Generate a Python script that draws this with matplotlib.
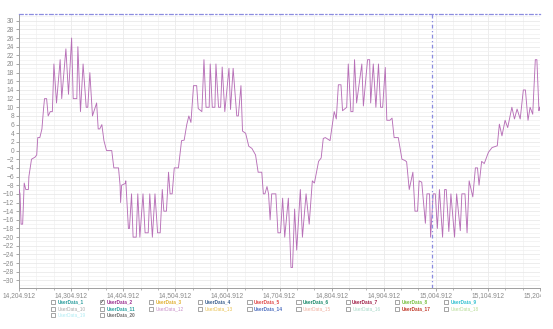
import matplotlib
matplotlib.use("Agg")
import matplotlib.pyplot as plt
from matplotlib.patches import Rectangle
from matplotlib.ticker import FixedLocator, FuncFormatter
from matplotlib.transforms import Bbox, TransformedBbox
import numpy as np

# ---------------- data ----------------
x_start = 14204.912
x_offsets = [0, 2, 4, 7, 10, 13, 18, 19, 24, 31, 34, 36, 40, 44, 47, 49, 53, 56, 60, 64,
             67, 72, 79, 82, 90, 95, 101, 104, 111, 113, 118, 123, 129, 132, 136, 141, 149, 152, 155, 159,
             163, 168, 178, 182, 191, 194, 195, 197, 204, 205, 210, 212, 216, 219, 225, 228, 232, 238, 242, 248,
             251, 256, 261, 266, 271, 275, 278, 283, 287, 290, 294, 298, 306, 312, 317, 322, 326, 330, 335, 341,
             344, 351, 355, 359, 365, 367, 371, 376, 378, 383, 387, 390, 395, 403, 406, 411, 418, 421, 426, 429,
             435, 441, 447, 454, 459, 466, 469, 472, 476, 479, 482, 485, 493, 497, 502, 506, 510, 517, 522, 525,
             529, 533, 540, 544, 551, 557, 563, 567, 575, 580, 584, 588, 597, 605, 609, 613, 618, 621, 629, 632,
             637, 641, 644, 648, 658, 661, 669, 673, 675, 680, 685, 690, 694, 698, 703, 706, 712, 716, 720, 728,
             735, 741, 744, 749, 756, 760, 765, 768, 773, 780, 783, 788, 790, 795, 799, 803, 807, 813, 817, 820,
             825, 829, 836, 840, 847, 850, 856, 860, 864, 871, 876, 880, 883, 888, 893, 901, 908, 918, 922, 927,
             933, 938, 946, 951, 956, 962, 968, 972, 977, 981, 986, 991, 994, 998, 999]
user_data_2 = [-9, -10, -17, -17, -7.5, -9, -9, -6, -2, -1.5, -1, 3, 3, 5, 9.5, 12, 12, 8, 9, 9,
               20, 11, 21, 12, 23.5, 13, 26, 12, 12, 24, 9, 20, 10, 10, 18, 8, 11, 5, 5, 6,
               2.3, 0, 0, -4, -4, -8, -12, -8, -7.6, -7, -18, -18, -10, -20, -20, -10, -20, -10, -19, -19,
               -10, -20, -10, -19, -19, -9, -14, -14, -5, -10, -10, -4, -4, 2.3, 2.4, 6, 8, 6.5, 15, 15,
               9.7, 9, 21, 10, 10, 20, 10, 10, 20, 10, 10, 19.3, 9, 19, 9.5, 19, 8, 8, 15, 4.5,
               4, 1, 0.5, -1, -5, -5, -10, -10, -8.3, -10, -16, -10, -10, -19, -19, -11, -20, -11, -27, -27,
               -13.5, -23, -9, -20, -10, -17, -7, -7.5, -2.5, -1.7, 2.8, 3, 2.3, 9, 7.3, 15.2, 15.2, 9.2, 10, 20,
               9, 9, 21, 11, 20, 10.3, 21, 21, 11, 20, 10, 20, 10, 10, 19.2, 7, 7, 7.5, 3, 3,
               -2, -2.3, -2.6, -9, -5, -14, -14, -7, -7.3, -16.8, -10, -10, -20, -10, -10, -18, -9, -20, -9, -9,
               -18.7, -10, -20, -10, -18.5, -10, -10, -19, -7, -10.7, -4, -4, -8, -2.5, -3, -0.4, 0.7, 1.1, 6.1, 3.4,
               7, 5.3, 10, 7.3, 9.6, 7.3, 14, 14, 7, 10, 8.4, 21, 21, 9.2, 10]
cursor_x = 14997.0

series_names = ["UserData_%d" % i for i in range(1, 21)]
series_colors = ["#2a9d9d", "#9b2d8f", "#e0b030", "#3a5f8f", "#e04848", "#1a8a6a", "#a02048",
                 "#78c040", "#30c0d0", "#a8a8a8", "#2aa0a0", "#c890c8", "#e8c050", "#5070c0",
                 "#f0b0a0", "#a8d8c8", "#c03828", "#b8dc98", "#b0ecf4", "#707070"]
series_checked = [False, True] + [False] * 18
series_bold = [True] * 9 + [False, True, False, False, True, False, False, True, False, False, True]

x_major = [x_start + 100 * k for k in range(11)]

# ---------------- figure ----------------
W, H = 553, 329
fig = plt.figure(figsize=(W / 100, H / 100), dpi=100)
fig.patch.set_facecolor("white")
ax = fig.add_axes([19 / W, 1 - 288 / H, 521 / W, 274 / H])
ax.set_facecolor("white")

xs = [x_start + o for o in x_offsets]
ax.plot(xs, user_data_2, color="#b060b0", lw=0.65, alpha=0.9, zorder=3)

ax.set_xlim(x_start, x_start + 1000)
ax.set_ylim(-31.75, 31.55)

# ticks
ax.xaxis.set_major_locator(FixedLocator(x_major))
minors = [x_start + 100 * k / 3 for k in range(31) if k % 3 != 0]
ax.xaxis.set_minor_locator(FixedLocator(minors))
ax.xaxis.set_major_formatter(FuncFormatter(lambda v, p: f"{v:,.3f}"))
ax.yaxis.set_major_locator(FixedLocator(list(range(-30, 31, 2))))
ax.yaxis.set_minor_locator(FixedLocator(list(range(-31, 32, 2))))

ax.tick_params(axis="both", which="major", colors="#9a9a9a", labelcolor="#8a8a8a",
               length=2.2, width=0.6, direction="out")
ax.tick_params(axis="x", which="minor", colors="#9a9a9a", length=1.6, width=0.5)
ax.tick_params(axis="y", which="minor", length=0)
ax.tick_params(axis="x", which="major", pad=1.0)
ax.tick_params(axis="y", which="major", pad=1.2)
for lab in ax.get_xticklabels() + ax.get_yticklabels():
    lab.set_fontfamily("Liberation Sans")
    lab.set_fontsize(4.8)

# grid
ax.grid(True, which="major", axis="both", color="#e6e6e6", lw=0.5, zorder=0)
ax.grid(True, which="minor", axis="both", color="#f0f0f0", lw=0.5, zorder=0)
ax.set_axisbelow(True)

# spines
ax.spines["right"].set_visible(False)
ax.spines["left"].set_color("#a0a0a0")
ax.spines["bottom"].set_color("#a0a0a0")
ax.spines["left"].set_linewidth(0.7)
ax.spines["bottom"].set_linewidth(0.7)
ax.spines["top"].set_color("#8c8ce0")
ax.spines["top"].set_linestyle((0, (3, 2, 1, 2)))
ax.spines["top"].set_linewidth(0.9)

ax.axvline(cursor_x, color="#8c8ce0", lw=0.9, ls=(0, (3, 2, 1, 2)), zorder=4)

# clip tick labels at the plot's right edge
clip = TransformedBbox(Bbox([[0, 0], [541 / W, 1]]), fig.transFigure)
for t in ax.xaxis.get_major_ticks():
    t.label1.set_clip_on(True)
    t.label1.set_clip_box(clip)

# ---------------- legend (checkbox list) ----------------
col_x = [50.7 + 49.15 * c for c in range(9)]
row_y = [302.0, 308.6, 315.2]
box = 4.2
for i, name in enumerate(series_names):
    r, c = divmod(i, 9)
    x0 = col_x[c]
    yc = row_y[r]
    fig.patches.append(Rectangle((x0 / W, 1 - (yc + box / 2) / H), box / W, box / H,
                                 transform=fig.transFigure, fill=True, facecolor="white",
                                 edgecolor="#808080", lw=0.5))
    if series_checked[i]:
        fig.text((x0 + box / 2) / W, 1 - yc / H, "\u2713", ha="center", va="center",
                 fontsize=4, color="#303030", family="DejaVu Sans")
    fig.text((x0 + box + 2.4) / W, 1 - yc / H, name, ha="left", va="center",
             fontsize=3.4, color=series_colors[i], family="Liberation Sans",
             fontweight="bold" if series_bold[i] else "normal")

fig.savefig("out.png", dpi=100, facecolor="white")
